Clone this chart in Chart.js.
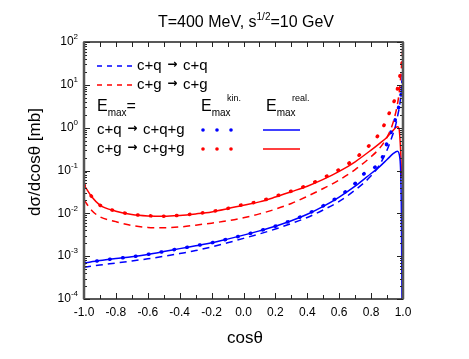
<!DOCTYPE html>
<html>
<head>
<meta charset="utf-8">
<script src="https://cdn.jsdelivr.net/npm/chart.js@4.4.1/dist/chart.umd.min.js"></script>
<style>
  html, body { margin: 0; padding: 0; background: #fff; }
</style>
</head>
<body>
<canvas id="chart" width="469" height="359"></canvas>
<script>
// c+q -> c+q (blue dashed)
const cqCos  = [-1.0, -0.9, -0.8, -0.7, -0.6, -0.5, -0.4, -0.3, -0.2, -0.1, 0.0, 0.1, 0.2, 0.3, 0.4, 0.5, 0.6, 0.7, 0.8, 0.85, 0.9, 0.93, 0.95, 0.97, 0.98, 0.99, 1.0];
const cqVals = [5.5e-4, 6.2e-4, 6.9e-4, 7.7e-4, 8.7e-4, 9.9e-4, 1.15e-3, 1.35e-3, 1.65e-3, 2.05e-3, 2.6e-3, 3.3e-3, 4.3e-3, 5.8e-3, 8.0e-3, 0.012, 0.019, 0.035, 0.075, 0.13, 0.3, 0.6, 1.0, 2.2, 3.5, 8, 25];

// c+g -> c+g (red dashed)
const cgCos  = [-1.0, -0.95, -0.9, -0.8, -0.7, -0.6, -0.5, -0.4, -0.3, -0.2, -0.1, 0.0, 0.1, 0.2, 0.3, 0.4, 0.5, 0.6, 0.7, 0.8, 0.85, 0.9, 0.94, 0.97, 0.98, 0.99, 1.0];
const cgVals = [0.0204, 0.0115, 0.0083, 0.0064, 0.0052, 0.0047, 0.0046, 0.0048, 0.0053, 0.0059, 0.0067, 0.0079, 0.0097, 0.0125, 0.017, 0.025, 0.038, 0.060, 0.105, 0.21, 0.32, 0.6, 1.4, 4.5, 9, 25, 90];

// c+q -> c+q+g, E_max kin. (blue dotted)
const cqgKinCos  = [-1.0, -0.9, -0.8, -0.7, -0.6, -0.5, -0.4, -0.3, -0.2, -0.1, 0.0, 0.1, 0.2, 0.3, 0.4, 0.5, 0.6, 0.7, 0.76, 0.84, 0.87, 0.9, 0.93, 0.96, 0.98, 0.99, 1.0];
const cqgKinVals = [6.9e-4, 7.9e-4, 8.8e-4, 9.7e-4, 1.1e-3, 1.28e-3, 1.5e-3, 1.75e-3, 2.05e-3, 2.5e-3, 3.1e-3, 3.9e-3, 5.0e-3, 6.8e-3, 9.7e-3, 0.015, 0.025, 0.05, 0.087, 0.135, 0.2, 0.44, 0.9, 1.95, 4, 6.8, 13];

// c+q -> c+q+g, E_max real. (blue solid)
const cqgRealCos  = [-1.0, -0.9, -0.8, -0.7, -0.6, -0.5, -0.4, -0.3, -0.2, -0.1, 0.0, 0.1, 0.2, 0.3, 0.4, 0.5, 0.6, 0.7, 0.8, 0.85, 0.9, 0.94, 0.965, 0.98, 0.99, 0.995];
const cqgRealVals = [6.9e-4, 7.9e-4, 8.8e-4, 9.7e-4, 1.1e-3, 1.28e-3, 1.5e-3, 1.75e-3, 2.05e-3, 2.5e-3, 3.1e-3, 3.9e-3, 5.0e-3, 6.7e-3, 9.5e-3, 0.0145, 0.024, 0.043, 0.085, 0.12, 0.18, 0.25, 0.28, 0.2, 0.01, 1e-5];

// c+g -> c+g+g, E_max kin. (red dotted)
const cggKinCos  = [-1.0, -0.95, -0.9, -0.8, -0.7, -0.6, -0.5, -0.4, -0.3, -0.2, -0.1, 0.0, 0.1, 0.2, 0.3, 0.4, 0.5, 0.6, 0.7, 0.77, 0.82, 0.87, 0.9, 0.93, 0.96, 0.975, 0.99, 1.0];
const cggKinVals = [0.046, 0.024, 0.0155, 0.0113, 0.0095, 0.0088, 0.0086, 0.009, 0.0098, 0.011, 0.013, 0.016, 0.019, 0.025, 0.033, 0.045, 0.067, 0.105, 0.19, 0.33, 0.51, 0.93, 1.7, 3.0, 6.5, 12.6, 25, 50];

// c+g -> c+g+g, E_max real. (red solid)
const cggRealCos  = [-1.0, -0.95, -0.9, -0.8, -0.7, -0.6, -0.5, -0.4, -0.3, -0.2, -0.1, 0.0, 0.1, 0.2, 0.3, 0.4, 0.5, 0.6, 0.7, 0.8, 0.85, 0.9, 0.93, 0.965, 0.975, 0.985, 0.99, 0.995];
const cggRealVals = [0.046, 0.024, 0.0155, 0.0112, 0.0094, 0.0087, 0.0085, 0.0089, 0.0097, 0.0108, 0.0128, 0.0155, 0.0185, 0.024, 0.032, 0.043, 0.062, 0.095, 0.16, 0.30, 0.42, 0.6, 0.8, 1.05, 0.95, 0.3, 0.1, 0.065];

const xTickLabels = ['-1.0', '-0.8', '-0.6', '-0.4', '-0.2', '0.0', '0.2', '0.4', '0.6', '0.8', '1.0'];
const yTickExps = [-4, -3, -2, -1, 0, 1, 2];

const BLUE = '#0000ff';
const RED = '#ff0000';
const FONT = '"Liberation Sans", Arial, sans-serif';

function pts(xs, ys) {
    return xs.map((x, i) => ({ x: x, y: ys[i] }));
}

function line(data, color, style) {
    const ds = {
        data: data,
        borderColor: color,
        backgroundColor: color,
        borderWidth: 1.5,
        pointRadius: 0,
        fill: false,
        cubicInterpolationMode: 'monotone'
    };
    if (style === 'dash') {
        ds.borderDash = [7, 5];
    } else if (style === 'dot') {
        ds.borderDash = [0.5, 12.5];
        ds.borderWidth = 3.5;
        ds.borderCapStyle = 'round';
    }
    return ds;
}

// superscript / subscript text helper
function richText(ctx, x, y, parts) {
    let cx = x;
    parts.forEach(p => {
        ctx.font = (p.font || (p.size + 'px ' + FONT));
        if (p.x !== undefined) cx = p.x;
        cx += (p.pad || 0);
        ctx.fillText(p.t, cx, y + (p.dy || 0));
        cx += ctx.measureText(p.t).width + (p.pad || 0);
    });
    return cx;
}

function measureParts(ctx, parts) {
    let w = 0;
    parts.forEach(p => {
        ctx.font = (p.font || (p.size + 'px ' + FONT));
        w += ctx.measureText(p.t).width + 2 * (p.pad || 0);
    });
    return w;
}

// "a → b" with a short bold arrow like the original
function reaction(ctx, x, y, lhs, rhs) {
    richText(ctx, x, y, [
        { t: lhs + ' ', size: 15 },
        { t: '\u2192', font: 'bold 12px "DejaVu Sans", sans-serif', dy: -1, pad: 1.5 },
        { t: ' ' + rhs, size: 15 }
    ]);
}

const framePlugin = {
    id: 'frame',
    afterDatasetsDraw(chart) {
        const ctx = chart.ctx;
        const a = chart.chartArea;
        const xs = chart.scales.x;
        const ys = chart.scales.y;
        ctx.save();
        ctx.fillStyle = '#000';
        ctx.strokeStyle = '#222';
        ctx.textBaseline = 'middle';

        // x ticks (top and bottom, inward)
        ctx.lineWidth = 1;
        for (let i = 0; i <= 20; i++) {
            const v = -1 + i * 0.1;
            const px = Math.round(xs.getPixelForValue(v)) + 0.5;
            const major = i % 2 === 0;
            ctx.beginPath();
            ctx.moveTo(px, a.bottom);
            ctx.lineTo(px, a.bottom - (major ? 6 : 4));
            ctx.moveTo(px, a.top);
            ctx.lineTo(px, a.top + 5);
            ctx.stroke();
        }
        // y ticks (left and right, inward)
        yTickExps.forEach(e => {
            const py = Math.round(ys.getPixelForValue(Math.pow(10, e))) + 0.5;
            ctx.beginPath();
            ctx.moveTo(a.left, py); ctx.lineTo(a.left + 6, py);
            ctx.moveTo(a.right, py); ctx.lineTo(a.right - 6, py);
            ctx.stroke();
            if (e < 2) {
                for (let m = 2; m <= 9; m++) {
                    const my = Math.round(ys.getPixelForValue(m * Math.pow(10, e))) + 0.5;
                    ctx.beginPath();
                    ctx.moveTo(a.left, my); ctx.lineTo(a.left + 3, my);
                    ctx.moveTo(a.right, my); ctx.lineTo(a.right - 3, my);
                    ctx.stroke();
                }
            }
        });

        // frame
        ctx.lineWidth = 1.5;
        ctx.strokeStyle = '#222';
        ctx.strokeRect(a.left, a.top, a.right - a.left, a.bottom - a.top);
        ctx.lineWidth = 2.5;
        ctx.strokeStyle = '#555';
        ctx.beginPath();
        ctx.moveTo(a.left, a.top); ctx.lineTo(a.left, a.bottom);
        ctx.moveTo(a.right, a.top); ctx.lineTo(a.right, a.bottom);
        ctx.stroke();

        // x tick labels
        ctx.textAlign = 'center';
        ctx.font = '12px ' + FONT;
        xTickLabels.forEach(l => {
            ctx.fillText(l, xs.getPixelForValue(parseFloat(l)), a.bottom + 14);
        });

        // y tick labels 10^e
        ctx.textAlign = 'left';
        yTickExps.forEach(e => {
            const py = ys.getPixelForValue(Math.pow(10, e));
            const parts = [{ t: '10', size: 12 }, { t: String(e), size: 8, dy: -5 }];
            const w = measureParts(ctx, parts);
            richText(ctx, a.left - 6 - w, py, parts);
        });

        // title
        const title = [
            { t: 'T=400 MeV, s', size: 16 },
            { t: '1/2', size: 10, dy: -6 },
            { t: '=10 GeV', size: 16 }
        ];
        const tw = measureParts(ctx, title);
        richText(ctx, 246 - tw / 2, 23, title);

        // axis titles
        ctx.textAlign = 'center';
        ctx.font = '17px ' + FONT;
        ctx.fillText('cos\u03b8', 245, 338);
        ctx.save();
        ctx.translate(35, 162);
        ctx.rotate(-Math.PI / 2);
        ctx.fillText('d\u03c3/dcos\u03b8 [mb]', 0, 0);
        ctx.restore();

        // legend
        ctx.textAlign = 'left';
        ctx.lineWidth = 1.5;
        const dashRow = (y, color, lhs, rhs) => {
            ctx.strokeStyle = color;
            ctx.setLineDash([5, 5]);
            ctx.beginPath();
            ctx.moveTo(97, y); ctx.lineTo(133, y);
            ctx.stroke();
            ctx.setLineDash([]);
            ctx.fillStyle = '#000';
            reaction(ctx, 137, y, lhs, rhs);
        };
        dashRow(66, BLUE, 'c+q', 'c+q');
        dashRow(85, RED, 'c+g', 'c+g');

        ctx.fillStyle = '#000';
        richText(ctx, 97, 107, [
            { t: 'E', size: 16 }, { t: 'max', size: 10, dy: 6 }, { t: '=', size: 16 }
        ]);
        richText(ctx, 201, 107, [
            { t: 'E', size: 16 }, { t: 'max', size: 10, dy: 6 }, { t: 'kin.', size: 9, dy: -8, x: 227 }
        ]);
        richText(ctx, 266, 107, [
            { t: 'E', size: 16 }, { t: 'max', size: 10, dy: 6 }, { t: 'real.', size: 9, dy: -8, x: 292 }
        ]);

        const procRow = (y, color, lhs, rhs) => {
            ctx.fillStyle = '#000';
            reaction(ctx, 97, y, lhs, rhs);
            ctx.fillStyle = color;
            [203, 217, 231].forEach(dx => {
                ctx.beginPath();
                ctx.arc(dx, y, 1.8, 0, Math.PI * 2);
                ctx.fill();
            });
            ctx.strokeStyle = color;
            ctx.beginPath();
            ctx.moveTo(263, y); ctx.lineTo(300, y);
            ctx.stroke();
        };
        procRow(130, BLUE, 'c+q', 'c+q+g');
        procRow(149, RED, 'c+g', 'c+g+g');

        ctx.restore();
    }
};

new Chart(document.getElementById('chart'), {
    type: 'line',
    data: {
        datasets: [
            line(pts(cqCos, cqVals), BLUE, 'dash'),
            line(pts(cgCos, cgVals), RED, 'dash'),
            line(pts(cqgKinCos, cqgKinVals), BLUE, 'dot'),
            line(pts(cggKinCos, cggKinVals), RED, 'dot'),
            line(pts(cqgRealCos, cqgRealVals), BLUE, 'solid'),
            line(pts(cggRealCos, cggRealVals), RED, 'solid')
        ]
    },
    options: {
        responsive: false,
        animation: false,
        layout: {
            padding: { left: 84, top: 42, right: 66, bottom: 60 }
        },
        plugins: {
            legend: { display: false },
            tooltip: { enabled: false }
        },
        scales: {
            x: { type: 'linear', min: -1, max: 1, display: false },
            y: { type: 'logarithmic', min: 1e-4, max: 100, display: false }
        }
    },
    plugins: [framePlugin]
});
</script>
</body>
</html>
